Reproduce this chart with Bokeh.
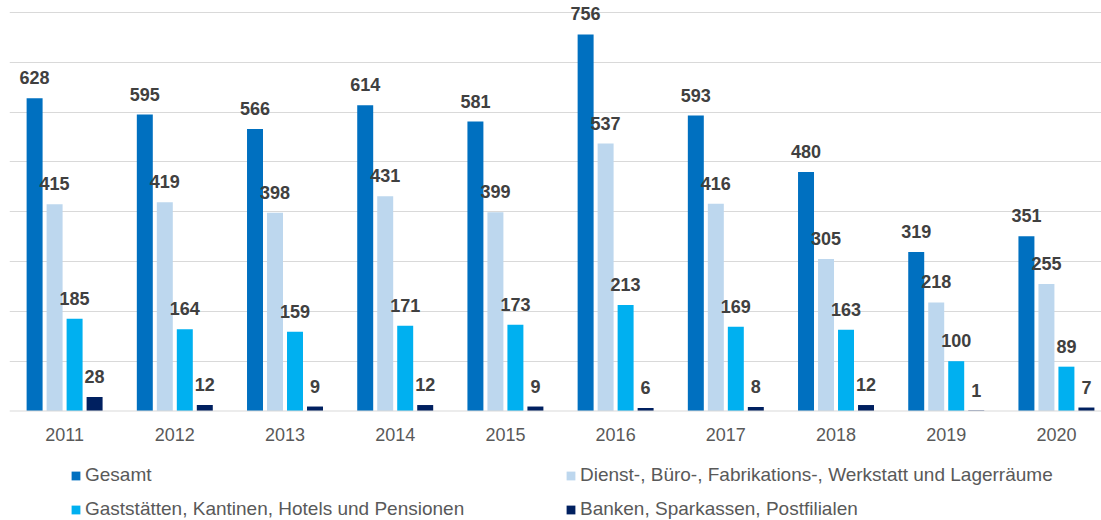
from bokeh.plotting import figure
from bokeh.models import (ColumnDataSource, Range1d, FixedTicker, LabelSet, Legend, LegendItem, Grid, Span)
from bokeh.transform import dodge
from bokeh.core.properties import value
from bokeh.embed import file_html
from bokeh.resources import INLINE

years = ["2011", "2012", "2013", "2014", "2015", "2016", "2017", "2018", "2019", "2020"]
gesamt = [628, 595, 566, 614, 581, 756, 593, 480, 319, 351]
dienst = [415, 419, 398, 431, 399, 537, 416, 305, 218, 255]
gast = [185, 164, 159, 171, 173, 213, 169, 163, 100, 89]
banken = [28, 12, 9, 12, 9, 6, 8, 12, 1, 7]

series_names = [
    "Gesamt",
    "Dienst-, Büro-, Fabrikations-, Werkstatt und Lagerräume",
    "Gaststätten, Kantinen, Hotels und Pensionen",
    "Banken, Sparkassen, Postfilialen",
]
series_values = [gesamt, dienst, gast, banken]
colors = ["#0070C0", "#BDD7EE", "#00B0F0", "#002060"]
offsets = [-0.2722, -0.0907, 0.0907, 0.2722]
bar_w = 0.145
grid_ticks = [100, 200, 300, 400, 500, 600, 700, 800]

xs = [i + 0.5 for i in range(len(years))]
FONT = "Liberation Sans"

p = figure(width=1101, height=520, output_backend="svg", toolbar_location=None,
           x_range=Range1d(0, 9.909), y_range=Range1d(-219.8, 824.1),
           x_axis_location=None, y_axis_location=None,
           min_border_left=9, min_border_right=0, min_border_top=0, min_border_bottom=0)
p.outline_line_color = None
p.background_fill_color = "white"
p.border_fill_color = "white"
for g in list(p.renderers) + list(p.center):
    if isinstance(g, Grid):
        g.visible = False

grid = Grid(dimension=1, ticker=FixedTicker(ticks=grid_ticks),
            grid_line_color="#D9D9D9", grid_line_width=1)
p.add_layout(grid)
p.add_layout(Span(location=0, dimension="width", line_color="#D9D9D9", line_width=1))

renderers = []
for name, vals, col, off in zip(series_names, series_values, colors, offsets):
    src = ColumnDataSource(dict(x=xs, top=vals, label=[str(v) for v in vals]))
    r = p.vbar(x=dodge("x", off, range=p.x_range), top="top", width=bar_w, source=src,
               fill_color=col, line_color=None)
    renderers.append(r)
    lbl = LabelSet(x=dodge("x", off, range=p.x_range), y="top", text="label", source=src,
                   y_offset=14, text_align="center", text_baseline="alphabetic",
                   text_font=value(FONT), text_font_style="bold",
                   text_font_size="18px", text_color="#404040")
    p.add_layout(lbl)

# category (year) labels under the baseline
ysrc = ColumnDataSource(dict(x=xs, label=years))
p.text(x="x", y=-46.2, text="label", source=ysrc, text_align="center",
       text_baseline="alphabetic", text_font=value(FONT), text_font_size="18px",
       text_color="#595959")

def make_legend(items, x):
    return Legend(items=items, location=(x, 0), orientation="vertical",
                  label_text_font=FONT, label_text_font_size="19px",
                  label_text_color="#595959", glyph_width=11, glyph_height=11,
                  label_standoff=4, label_height=22, spacing=12, padding=0, margin=0,
                  border_line_color=None, background_fill_alpha=0)

leg1 = make_legend([LegendItem(label=series_names[0], renderers=[renderers[0]]),
                    LegendItem(label=series_names[2], renderers=[renderers[2]])], 61)
leg2 = make_legend([LegendItem(label=series_names[1], renderers=[renderers[1]]),
                    LegendItem(label=series_names[3], renderers=[renderers[3]])], 556)
p.add_layout(leg1, "center")
p.add_layout(leg2, "center")

open("out.html", "w").write(file_html(p, INLINE))
